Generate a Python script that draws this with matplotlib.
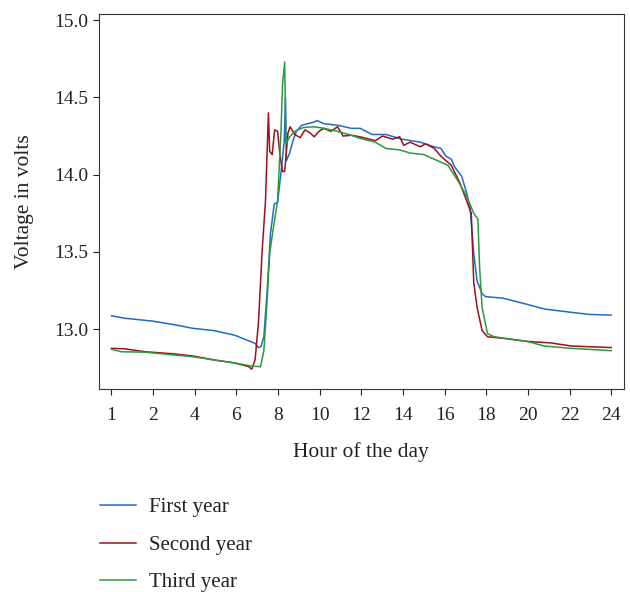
import matplotlib
matplotlib.use("Agg")
import matplotlib.pyplot as plt

plt.rcParams['font.family'] = ['Liberation Serif', 'DejaVu Serif']

# tick labels sit at equal spacing along the axis
hour_labels = ['1', '2', '4', '6', '8', '10', '12', '14', '16', '18', '20', '22', '24']

# position along the tick scale (0 = "1", 12 = "24") and voltage
first_x = [0.00, 0.31, 0.97, 1.47, 1.97, 2.46, 2.96, 3.45, 3.53, 3.59, 3.66, 3.74, 3.82,
           3.91, 3.99, 4.07, 4.15, 4.18, 4.20, 4.28, 4.36, 4.44, 4.57, 4.86, 4.94, 5.10,
           5.43, 5.76, 5.97, 6.26, 6.59, 6.97, 7.42, 7.75, 7.91, 8.03, 8.16, 8.24, 8.41,
           8.53, 8.61, 8.70, 8.78, 8.90, 8.98, 9.40, 9.98, 10.39, 10.98, 11.46, 12.00]
first_v = [13.086, 13.07, 13.052, 13.03, 13.004, 12.99, 12.96, 12.907, 12.88, 12.886, 12.95,
           13.25, 13.62, 13.81, 13.82, 14.01, 14.22, 14.50, 14.09, 14.14, 14.22, 14.28, 14.32,
           14.34, 14.35, 14.33, 14.32, 14.30, 14.30, 14.26, 14.26, 14.23, 14.21, 14.18, 14.17,
           14.12, 14.10, 14.05, 13.99, 13.88, 13.79, 13.49, 13.31, 13.23, 13.21, 13.20, 13.16,
           13.13, 13.11, 13.095, 13.09]

second_x = [0.00, 0.31, 0.81, 1.47, 1.97, 2.46, 2.96, 3.29, 3.37, 3.45, 3.53, 3.62, 3.70,
            3.74, 3.77, 3.80, 3.86, 3.92, 3.99, 4.05, 4.11, 4.16, 4.24, 4.29, 4.40, 4.53,
            4.65, 4.77, 4.87, 4.98, 5.10, 5.27, 5.43, 5.56, 5.76, 5.97, 6.34, 6.51, 6.75,
            6.92, 7.02, 7.17, 7.42, 7.54, 7.75, 7.91, 8.16, 8.36, 8.53, 8.64, 8.70, 8.78,
            8.90, 9.03, 9.40, 9.98, 10.55, 11.05, 12.00]
second_v = [12.875, 12.872, 12.853, 12.84, 12.825, 12.80, 12.78, 12.757, 12.74, 12.80, 13.04,
            13.51, 13.83, 14.16, 14.40, 14.15, 14.13, 14.29, 14.28, 14.12, 14.02, 14.02, 14.27,
            14.31, 14.26, 14.24, 14.29, 14.27, 14.245, 14.28, 14.30, 14.28, 14.31, 14.25,
            14.255, 14.245, 14.22, 14.25, 14.23, 14.245, 14.19, 14.21, 14.18, 14.20, 14.17,
            14.12, 14.06, 13.95, 13.83, 13.75, 13.30, 13.14, 12.99, 12.95, 12.94, 12.92,
            12.91, 12.89, 12.88]

third_x = [0.00, 0.23, 0.81, 1.97, 2.96, 3.37, 3.58, 3.66, 3.74, 3.80, 3.88, 3.99, 4.07,
           4.11, 4.16, 4.19, 4.28, 4.40, 4.61, 4.86, 5.10, 5.43, 5.76, 5.97, 6.34, 6.59,
           6.92, 7.17, 7.50, 7.75, 8.08, 8.32, 8.53, 8.70, 8.80, 8.84, 8.90, 9.03, 9.19,
           9.98, 10.39, 11.05, 12.00]
third_v = [12.87, 12.853, 12.85, 12.82, 12.78, 12.76, 12.756, 12.86, 13.19, 13.49, 13.64,
           13.83, 14.27, 14.59, 14.73, 14.20, 14.245, 14.28, 14.305, 14.31, 14.30, 14.28,
           14.255, 14.235, 14.21, 14.17, 14.16, 14.14, 14.13, 14.10, 14.06, 13.96, 13.86,
           13.75, 13.71, 13.40, 13.14, 12.97, 12.95, 12.92, 12.89, 12.875, 12.86]

fig = plt.figure(figsize=(6.3, 5.92), dpi=100)
ax = fig.add_axes([0.157, 0.343, 0.833, 0.633])

l1, = ax.plot(first_x, first_v, color='#1f6cc4', lw=1.1, label='First year')
l2, = ax.plot(second_x, second_v, color='#9b111e', lw=1.1, label='Second year')
l3, = ax.plot(third_x, third_v, color='#2a9a3c', lw=1.1, label='Third year')

ax.set_xlim(-0.3, 12.3)
ax.set_ylim(12.612, 15.039)
ax.set_xticks(range(len(hour_labels)))
ax.set_xticklabels(hour_labels)
ax.set_yticks([13.0, 13.5, 14.0, 14.5, 15.0])
ax.set_yticklabels(['13.0', '13.5', '14.0', '14.5', '15.0'])
ax.tick_params(labelsize=14, colors='#222222', length=4)
ax.tick_params(axis='x', pad=9)
for s in ax.spines.values():
    s.set_color('#333333')

ax.set_xlabel('Hour of the day', fontsize=15.5, color='#222222', labelpad=13)
ax.set_ylabel('Voltage in volts', fontsize=15.5, color='#222222', labelpad=15)

fig.legend(handles=[l1, l2, l3], loc='upper left', bbox_to_anchor=(0.159, 0.159),
           frameon=False, fontsize=15, handlelength=1.7, handletextpad=0.62,
           labelspacing=0.86, borderpad=0, borderaxespad=0, labelcolor='#222222')

plt.savefig('out.png', dpi=100)
